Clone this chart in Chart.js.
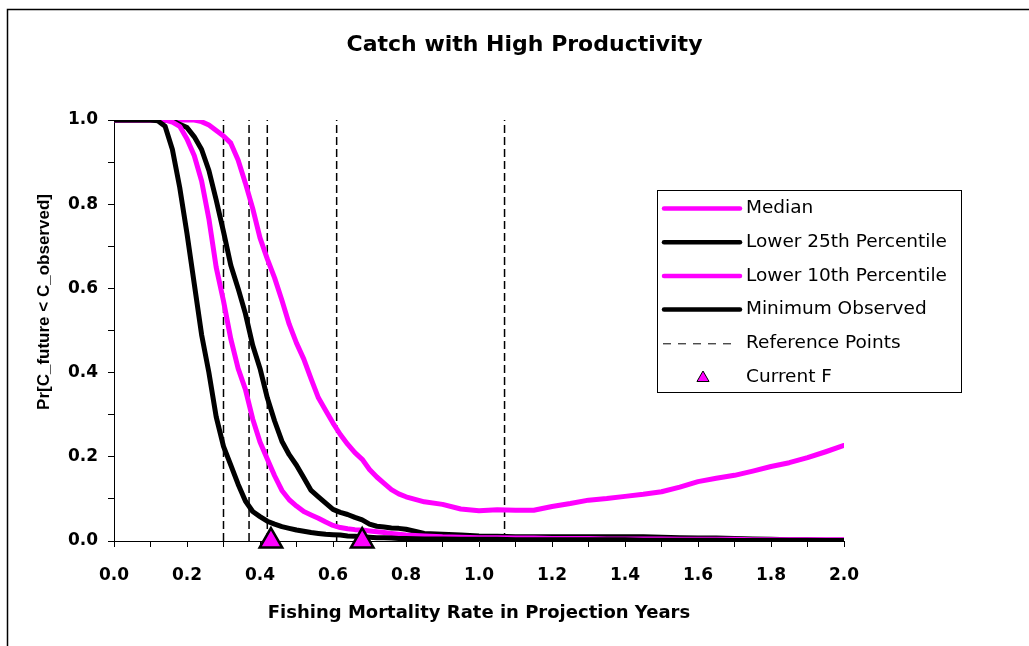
<!DOCTYPE html>
<html>
<head>
<meta charset="utf-8">
<title>Catch with High Productivity</title>
<script src="https://cdn.jsdelivr.net/npm/chart.js@4/dist/chart.umd.min.js"></script>
<style>
  html, body { margin: 0; padding: 0; background: #fff; }
  canvas { display: block; }
</style>
</head>
<body>
<canvas id="catch-chart" width="1029" height="646"></canvas>
<script>
(function () {
  'use strict';

  /* ── Data ───────────────────────────────────────────────────────────── */
  var CHART_TITLE = 'Catch with High Productivity';
  var X_TITLE = 'Fishing Mortality Rate in Projection Years';
  var Y_TITLE = 'Pr[C_future < C_observed]';

  var SERIES_NAMES = ['Median', 'Lower 25th Percentile', 'Lower 10th Percentile',
    'Minimum Observed', 'Reference Points', 'Current F'];

  // fishing mortality grid (x values)
  var F_GRID = [0.00, 0.05, 0.10,
    0.12, 0.14, 0.16, 0.18, 0.20, 0.22, 0.24, 0.26, 0.28, 0.30,
    0.32, 0.34, 0.36, 0.38, 0.40, 0.42, 0.44, 0.46, 0.48, 0.50,
    0.52, 0.54, 0.56, 0.58, 0.60, 0.62, 0.64, 0.66, 0.68, 0.70,
    0.72, 0.74, 0.76, 0.78, 0.80,
    0.85, 0.90, 0.95, 1.00, 1.05, 1.10, 1.15, 1.20, 1.25, 1.30,
    1.35, 1.40, 1.45, 1.50, 1.55, 1.60, 1.65, 1.70, 1.75, 1.80,
    1.85, 1.90, 1.95, 2.00];

  var MEDIAN = [1, 1, 1,
    1, 1, 1, 1, 1, 1.0, 0.996, 0.988, 0.975, 0.962,
    0.945, 0.905, 0.85, 0.79, 0.72, 0.67, 0.625, 0.572, 0.515, 0.47,
    0.432, 0.385, 0.34, 0.31, 0.28, 0.253, 0.23, 0.21, 0.194, 0.17,
    0.152, 0.137, 0.122, 0.112, 0.105,
    0.093, 0.087, 0.076, 0.072, 0.074, 0.073, 0.073, 0.082, 0.089, 0.097,
    0.101, 0.106, 0.111, 0.117, 0.128, 0.141, 0.149, 0.156, 0.166, 0.177,
    0.186, 0.198, 0.212, 0.227];

  var LOWER_25 = [1, 1, 1,
    1, 1, 0.998, 0.99, 0.982, 0.96, 0.93, 0.88, 0.81, 0.735,
    0.655, 0.6, 0.54, 0.465, 0.41, 0.34, 0.285, 0.237, 0.205, 0.18,
    0.15, 0.12, 0.105, 0.09, 0.075, 0.068, 0.063, 0.056, 0.05, 0.04,
    0.035, 0.033, 0.031, 0.03, 0.028,
    0.018, 0.016, 0.014, 0.012, 0.011, 0.01, 0.01, 0.01, 0.01, 0.01,
    0.01, 0.01, 0.01, 0.009, 0.008, 0.007, 0.007, 0.006, 0.005, 0.004,
    0.003, 0.003, 0.002, 0.002];

  var LOWER_10 = [1, 1, 1,
    1, 1, 0.995, 0.985, 0.955, 0.915, 0.855, 0.765, 0.65, 0.57,
    0.48, 0.41, 0.36, 0.29, 0.235, 0.195, 0.155, 0.12, 0.098, 0.083,
    0.07, 0.062, 0.054, 0.045, 0.037, 0.032, 0.029, 0.027, 0.026, 0.024,
    0.022, 0.02, 0.018, 0.016, 0.014,
    0.012, 0.01, 0.009, 0.008, 0.008, 0.007, 0.007, 0.006, 0.006, 0.006,
    0.005, 0.005, 0.005, 0.005, 0.004, 0.004, 0.004, 0.004, 0.003, 0.003,
    0.003, 0.003, 0.003, 0.003];

  var MIN_OBSERVED = [1, 1, 1,
    0.998, 0.985, 0.93, 0.84, 0.73, 0.61, 0.49, 0.4, 0.295, 0.225,
    0.18, 0.135, 0.095, 0.07, 0.058, 0.047, 0.04, 0.034, 0.03, 0.026,
    0.023, 0.02, 0.018, 0.016, 0.015, 0.014, 0.012, 0.011, 0.01, 0.009,
    0.008, 0.008, 0.007, 0.006, 0.006,
    0.005, 0.005, 0.004, 0.004, 0.004, 0.003, 0.003, 0.003, 0.003, 0.003,
    0.003, 0.003, 0.002, 0.002, 0.002, 0.002, 0.002, 0.001, 0.001, 0.001,
    0.001, 0.001, 0.001, 0.001];

  var REF_POINTS = [0.30, 0.37, 0.42, 0.61, 1.07];
  var CURRENT_F = [0.43, 0.68];

  var MAGENTA = '#ff00ff';
  var BLACK = '#000000';
  var TICK_FONT = { family: '"DejaVu Sans", sans-serif', weight: 'bold', size: 17 };

  function toPoints(values) {
    return F_GRID.map(function (f, i) { return { x: f, y: values[i] }; });
  }

  function curve(label, values, color) {
    return {
      label: label,
      data: toPoints(values),
      borderColor: color,
      backgroundColor: color,
      borderWidth: 5,
      borderCapStyle: 'round',
      borderJoinStyle: 'round',
      pointRadius: 0,
      tension: 0,
      fill: false
    };
  }

  function everyOther(value, index) {
    return index % 2 === 0 ? Number(value).toFixed(1) : '';
  }

  /* ── Datasets: first in the list is painted on top ──────────────────── */
  var datasets = [
    {
      label: SERIES_NAMES[5],
      type: 'scatter',
      data: CURRENT_F.map(function (f) { return { x: f, y: 0 }; }),
      pointStyle: 'triangle',
      pointRadius: 13,
      pointBackgroundColor: MAGENTA,
      pointBorderColor: BLACK,
      pointBorderWidth: 2.5,
      showLine: false,
      clip: false
    },
    curve(SERIES_NAMES[3], MIN_OBSERVED, BLACK),
    curve(SERIES_NAMES[2], LOWER_10, MAGENTA),
    curve(SERIES_NAMES[1], LOWER_25, BLACK),
    curve(SERIES_NAMES[0], MEDIAN, MAGENTA)
  ];
  REF_POINTS.forEach(function (f) {
    datasets.push({
      label: SERIES_NAMES[4],
      data: [{ x: f, y: 0 }, { x: f, y: 1 }],
      borderColor: BLACK,
      borderWidth: 1.5,
      borderDash: [8, 4],
      pointRadius: 0,
      fill: false
    });
  });

  /* ── Legend box, outer frame and rotated y title ────────────────────── */
  function drawLegend(chart) {
    var ctx = chart.ctx;
    var kinds = [
      { kind: 'line', color: MAGENTA },
      { kind: 'line', color: BLACK },
      { kind: 'line', color: MAGENTA },
      { kind: 'line', color: BLACK },
      { kind: 'dash', color: BLACK },
      { kind: 'marker', color: MAGENTA }
    ];
    ctx.save();
    ctx.fillStyle = '#fff';
    ctx.fillRect(657.5, 190.5, 304, 202);
    ctx.strokeStyle = BLACK;
    ctx.lineWidth = 1;
    ctx.strokeRect(657.5, 190.5, 304, 202);
    ctx.font = '18.5px "DejaVu Sans", sans-serif';
    ctx.textAlign = 'left';
    ctx.textBaseline = 'middle';

    kinds.forEach(function (k, i) {
      var y = 208.5 + i * 33.7;
      ctx.setLineDash([]);
      if (k.kind === 'line') {
        ctx.strokeStyle = k.color;
        ctx.lineWidth = 4.5;
        ctx.lineCap = 'round';
        ctx.beginPath(); ctx.moveTo(664, y); ctx.lineTo(740, y); ctx.stroke();
      } else if (k.kind === 'dash') {
        ctx.strokeStyle = k.color;
        ctx.lineWidth = 1;
        ctx.lineCap = 'butt';
        ctx.setLineDash([8, 7]);
        ctx.beginPath(); ctx.moveTo(663, y + 0.5); ctx.lineTo(736, y + 0.5); ctx.stroke();
        ctx.setLineDash([]);
      } else {
        ctx.fillStyle = k.color;
        ctx.strokeStyle = BLACK;
        Chart.helpers.drawPoint(ctx, { pointStyle: 'triangle', radius: 7, rotation: 0, borderWidth: 2 }, 703, y + 1);
      }
      ctx.fillStyle = BLACK;
      ctx.fillText(SERIES_NAMES[i], 746, y);
    });
    ctx.restore();
  }

  var decorPlugin = {
    id: 'excelDecor',
    afterDraw: function (chart) {
      var ctx = chart.ctx;
      ctx.save();
      ctx.strokeStyle = BLACK;
      ctx.lineWidth = 1.5;
      ctx.beginPath();
      ctx.moveTo(7.5, chart.height);
      ctx.lineTo(7.5, 9.5);
      ctx.lineTo(chart.width, 9.5);
      ctx.stroke();

      ctx.translate(44, 302);
      ctx.rotate(-Math.PI / 2);
      ctx.font = 'bold 17px "Liberation Sans", Arial, sans-serif';
      ctx.fillStyle = BLACK;
      ctx.textAlign = 'center';
      ctx.textBaseline = 'middle';
      ctx.fillText(Y_TITLE, 0, 0);
      ctx.restore();

      drawLegend(chart);
    }
  };

  Chart.defaults.color = BLACK;

  new Chart(document.getElementById('catch-chart'), {
    type: 'line',
    data: { datasets: datasets },
    plugins: [decorPlugin],
    options: {
      responsive: false,
      animation: false,
      layout: { padding: { left: 20, right: 0, top: 0, bottom: 0 } },
      plugins: {
        legend: { display: false },
        tooltip: { enabled: false },
        title: {
          display: true,
          text: CHART_TITLE,
          color: BLACK,
          font: { family: '"DejaVu Sans", sans-serif', weight: 'bold', size: 22 },
          padding: { top: 32, bottom: 61.6 }
        }
      },
      scales: {
        x: {
          type: 'linear',
          min: 0,
          max: 2,
          grid: { drawOnChartArea: false, drawTicks: true, tickLength: 6, color: BLACK },
          border: { color: BLACK, width: 1 },
          ticks: {
            stepSize: 0.1,
            autoSkip: false,
            maxRotation: 0,
            padding: 18,
            color: BLACK,
            font: TICK_FONT,
            callback: everyOther
          },
          title: {
            display: true,
            text: X_TITLE,
            color: BLACK,
            font: { family: '"DejaVu Sans", sans-serif', weight: 'bold', size: 18 },
            padding: { top: 0, bottom: 22 }
          },
          afterFit: function (scale) { scale.height = 105; }
        },
        y: {
          type: 'linear',
          min: 0,
          max: 1,
          grid: { drawOnChartArea: false, drawTicks: true, tickLength: 6, color: BLACK },
          border: { color: BLACK, width: 1 },
          ticks: {
            stepSize: 0.1,
            autoSkip: false,
            padding: 10,
            color: BLACK,
            font: TICK_FONT,
            callback: everyOther
          },
          afterFit: function (scale) { scale.width = 94; }
        },
        yRight: {
          type: 'linear',
          position: 'right',
          display: true,
          grid: { display: false },
          border: { display: false },
          ticks: { display: false },
          afterFit: function (scale) { scale.width = 185; }
        }
      }
    }
  });
})();
</script>
</body>
</html>
